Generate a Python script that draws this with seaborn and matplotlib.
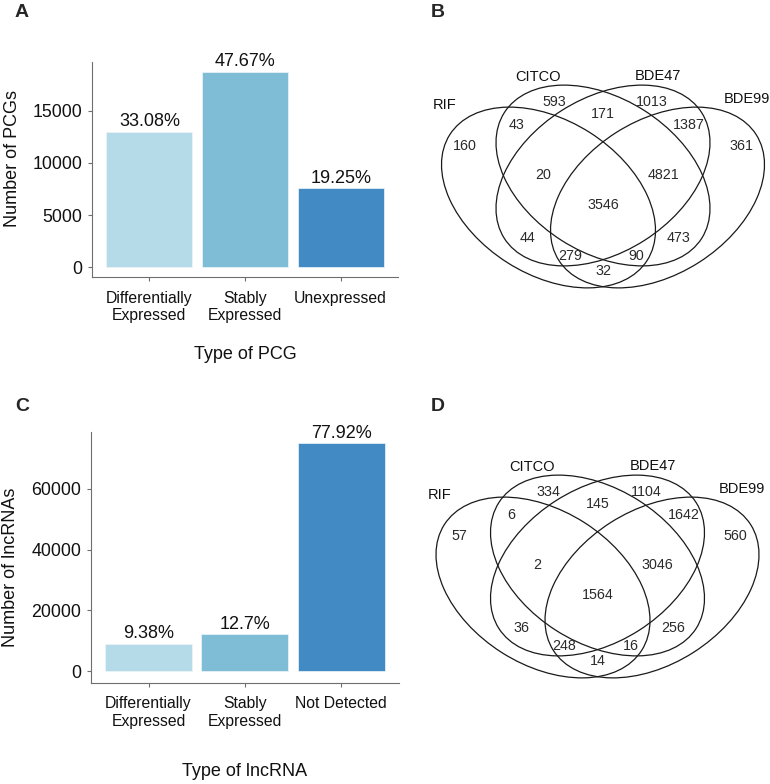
import matplotlib
matplotlib.use("Agg")
import matplotlib.pyplot as plt
from matplotlib.patches import Ellipse
import seaborn as sns
import pandas as pd

sns.set_style("ticks")
plt.rcParams['font.family'] = ['Liberation Sans', 'DejaVu Sans']

# ---- data ----
pcg_types = ["Differentially\nExpressed", "Stably\nExpressed", "Unexpressed"]
pcg_counts = [12993, 18724, 7561]
pcg_pct = ["33.08%", "47.67%", "19.25%"]

lnc_types = ["Differentially\nExpressed", "Stably\nExpressed", "Not Detected"]
lnc_counts = [9028, 12224, 74998]
lnc_pct = ["9.38%", "12.7%", "77.92%"]

bar_colors = ["#b5dbe8", "#7fbcd6", "#428ac4"]

set_names = ["RIF", "CITCO", "BDE47", "BDE99"]
# region membership (RIF, CITCO, BDE47, BDE99)
regions = ["1000", "0100", "0010", "0001", "0110", "1100", "0011", "1110",
           "0111", "1111", "1010", "0101", "1011", "1101", "1001"]
pcg_overlap = [160, 593, 1013, 361, 171, 43, 1387, 20, 4821, 3546, 44, 473, 279, 90, 32]
lnc_overlap = [57, 334, 1104, 560, 145, 6, 1642, 2, 3046, 1564, 36, 256, 248, 16, 14]

# ---- layout ----
W, H = 770, 784
fig = plt.figure(figsize=(W / 100, H / 100), dpi=100)


def px_axes(l, t, r, b):
    return fig.add_axes([l / W, 1 - b / H, (r - l) / W, (b - t) / H])


axis_grey = "#6e6e6e"


def bar_panel(ax, cats, counts, pcts, ticks, xlab, ylab, ylab_xy, xlab_y):
    df = pd.DataFrame({"type": cats, "n": counts})
    sns.barplot(data=df, x="type", y="n", hue="type", palette=bar_colors,
                width=0.9, saturation=1, legend=False, ax=ax,
                edgecolor="#eef6fa", linewidth=0.5)
    for cont, lab in zip(ax.containers, pcts):
        ax.bar_label(cont, labels=[lab], padding=1, fontsize=13, color="#111111")
    top = max(counts)
    ax.set_xlim(-0.6, 2.6)
    ax.set_ylim(-0.05 * top, 1.05 * top)
    ax.set_yticks(ticks)
    ax.set_yticklabels([str(t) for t in ticks])
    sns.despine(ax=ax)
    for s in ["left", "bottom"]:
        ax.spines[s].set_color(axis_grey)
        ax.spines[s].set_linewidth(0.8)
    ax.tick_params(axis="y", length=2.75, width=0.8, color=axis_grey, pad=4,
                   labelsize=12.8, labelcolor="#111111")
    ax.tick_params(axis="x", length=2.75, width=0.8, color=axis_grey, pad=7,
                   labelsize=11.3, labelcolor="#111111")
    ax.set_xlabel(xlab, fontsize=13, color="#111111")
    ax.set_ylabel(ylab, fontsize=13, color="#111111")
    ax.yaxis.set_label_coords(*ylab_xy)
    ax.xaxis.set_label_coords(0.5, xlab_y)
    ax.xaxis.label.set_va("top")


ax_a = px_axes(92, 62, 398, 277)
bar_panel(ax_a, pcg_types, pcg_counts, pcg_pct, [0, 5000, 10000, 15000],
          "Type of PCG", "Number of PCGs", (-0.232, 0.549), -0.323)

ax_c = px_axes(90.7, 431.7, 399, 682.7)
bar_panel(ax_c, lnc_types, lnc_counts, lnc_pct, [0, 20000, 40000, 60000],
          "Type of lncRNA", "Number of lncRNAs", (-0.233, 0.461), -0.319)

# ---- venn panels ----
# ellipse shapes in pixel units relative to the diagram centre (y up)
ell_specs = [(-54.5, -7.5, -32.5), (0, 14.5, -32.5), (0, 14.5, 32.5), (54.5, -7.5, 32.5)]
name_pos = [(-158, 85), (-65, 113), (55, 114), (144, 91)]
region_pos = {
    "1000": (-138, 44), "0001": (138, 44),
    "0100": (-49, 88), "0010": (49, 88),
    "0110": (0, 76),
    "1100": (-86, 65), "0011": (86, 65),
    "1110": (-60, 15), "0111": (60, 15),
    "1111": (0, -15),
    "1010": (-76, -48), "0101": (76, -48),
    "1011": (-33, -66), "1101": (33, -66),
    "1001": (0, -81),
}


def venn_panel(cx, cy, values):
    l, r, t, b = 420, 770, cy - 140, cy + 110
    ax = px_axes(l, t, r, b)
    ax.set_xlim(l - cx, r - cx)
    ax.set_ylim(cy - b, cy - t)
    ax.axis("off")
    for ex, ey, ang in ell_specs:
        ax.add_patch(Ellipse((ex, ey), 234, 154, angle=ang, fill=False,
                             edgecolor="#1a1a1a", linewidth=0.9))
    for name, (nx, ny) in zip(set_names, name_pos):
        ax.text(nx, ny, name, ha="center", va="center", fontsize=10.5, color="#111111")
    for key, val in zip(regions, values):
        rx, ry = region_pos[key]
        ax.text(rx, ry, str(val), ha="center", va="center", fontsize=10.3, color="#2a2a2a")


venn_panel(603, 190, pcg_overlap)
venn_panel(597.5, 580, lnc_overlap)

# panel letters
for letter, x, y in [("A", 15, 17), ("B", 431, 17), ("C", 15, 411), ("D", 431, 411)]:
    fig.text(x / W, 1 - y / H, letter, fontsize=14, fontweight="bold", va="baseline", ha="left")

fig.savefig("out.png", dpi=100)
